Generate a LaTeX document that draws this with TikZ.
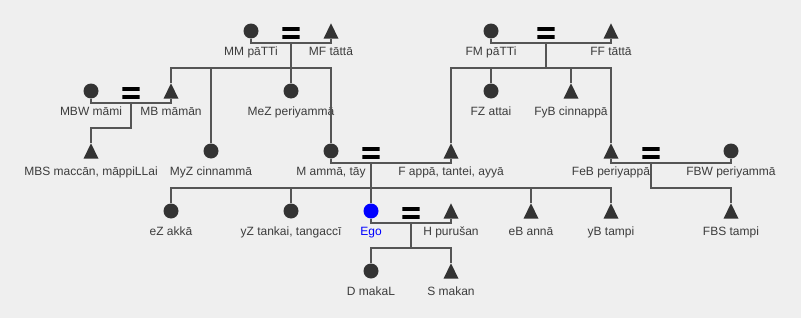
\documentclass[tikz,border=0pt]{standalone}
\usepackage{fontspec}
\setmainfont{Liberation Sans}
\usetikzlibrary{positioning, calc}

\definecolor{bgc}{RGB}{239,239,239}
\definecolor{kinfill}{RGB}{51,51,51}
\definecolor{kinline}{RGB}{85,85,85}
\definecolor{kintext}{RGB}{60,60,60}
\definecolor{egoblue}{RGB}{0,0,255}

\begin{document}
\begin{tikzpicture}[
  x=0.75pt, y=-0.75pt,
  font=\fontsize{9}{11}\selectfont,
  node distance=5.8pt,
  fem/.style={circle, fill=kinfill, inner sep=0pt, minimum size=11.25pt},
  ego/.style={fem, fill=egoblue},
  male/.style={rectangle, inner sep=0pt, minimum width=11.25pt, minimum height=11.5pt,
    path picture={\fill[kinfill] (path picture bounding box.south west) -- (path picture bounding box.south east) -- (path picture bounding box.north) -- cycle;}},
  marry/.style={rectangle, inner sep=0pt, minimum width=12.8pt, minimum height=8.6pt,
    path picture={\fill[black] (path picture bounding box.north west) rectangle ($(path picture bounding box.north east)+(0,-3pt)$);
      \fill[black] (path picture bounding box.south west) rectangle ($(path picture bounding box.south east)+(0,3pt)$);}},
  lbl/.style={inner sep=0pt, text height=6.6pt, text depth=1.9pt, text=kintext},
  kin/.style={draw=kinline, line width=0.9pt}
]
\fill[bgc] (0,0) rectangle (801,318);
\useasboundingbox (0,0) rectangle (801,318);

% grandparents
\node[fem] (MM) at (251,31) {};
\node[male] (MF) at (331,31) {};
\node[marry] (eqMM) at (291,33) {};
\node[fem] (FM) at (491,31) {};
\node[male] (FF) at (611,31) {};
\node[marry] (eqFM) at (546,33) {};
\coordinate (uMM) at (291,43);
\coordinate (sMM) at (291,68);
\coordinate (uFM) at (546,43);
\coordinate (sFM) at (546,68);

% parents' generation
\node[fem] (MBW) at (91,91) {};
\node[male] (MB) at (171,91) {};
\node[marry] (eqMB) at (131,93) {};
\node[fem] (MeZ) at (291,91) {};
\node[fem] (FZ) at (491,91) {};
\node[male] (FyB) at (571,91) {};
\coordinate (uMB) at (131,103);
\coordinate (sMB) at (131,128);

\node[male] (MBS) at (91,151) {};
\node[fem] (MyZ) at (211,151) {};
\node[fem] (M) at (331,151) {};
\node[male] (F) at (451,151) {};
\node[marry] (eqM) at (371,153) {};
\node[male] (FeB) at (611,151) {};
\node[fem] (FBW) at (731,151) {};
\node[marry] (eqFeB) at (651,153) {};
\coordinate (uM) at (371,163);
\coordinate (sM) at (371,188);
\coordinate (uFeB) at (651,163);
\coordinate (sFeB) at (651,188);

% ego's generation
\node[fem] (eZ) at (171,211) {};
\node[fem] (yZ) at (291,211) {};
\node[ego] (Ego) at (371,211) {};
\node[male] (H) at (451,211) {};
\node[marry] (eqEgo) at (411,213) {};
\node[male] (eB) at (531,211) {};
\node[male] (yB) at (611,211) {};
\node[male] (FBS) at (731,211) {};
\coordinate (uEgo) at (411,223);
\coordinate (sEgo) at (411,248);

% children
\node[fem] (D) at (371,271) {};
\node[male] (S) at (451,271) {};

% labels
\node[lbl, below=of MM] (MMt) {MM pāTTi};
\node[lbl, below=of MF] (MFt) {MF tāttā};
\node[lbl, below=of FM] (FMt) {FM pāTTi};
\node[lbl, below=of FF] (FFt) {FF tāttā};
\node[lbl, below=of MBW] (MBWt) {MBW māmi};
\node[lbl, below=of MB] (MBt) {MB māmān};
\node[lbl, below=of MeZ] (MeZt) {MeZ periyammā};
\node[lbl, below=of FZ] (FZt) {FZ attai};
\node[lbl, below=of FyB] (FyBt) {FyB cinnappā};
\node[lbl, below=of MBS] (MBSt) {MBS maccān, māppiLLai};
\node[lbl, below=of MyZ] (MyZt) {MyZ cinnammā};
\node[lbl, below=of M] (Mt) {M ammā, tāy};
\node[lbl, below=of F] (Ft) {F appā, tantei, ayyā};
\node[lbl, below=of FeB] (FeBt) {FeB periyappā};
\node[lbl, below=of FBW] (FBWt) {FBW periyammā};
\node[lbl, below=of eZ] (eZt) {eZ akkā};
\node[lbl, below=of yZ] (yZt) {yZ tankai, tangaccī};
\node[lbl, below=of Ego, text=egoblue] (Egot) {Ego};
\node[lbl, below=of H] (Ht) {H purušan};
\node[lbl, below=of eB] (eBt) {eB annā};
\node[lbl, below=of yB] (yBt) {yB tampi};
\node[lbl, below=of FBS] (FBSt) {FBS tampi};
\node[lbl, below=of D] (Dt) {D makaL};
\node[lbl, below=of S] (St) {S makan};

% mother's parents
\draw[kin] (MM) |- (uMM) -| (MF);
\draw[kin] (uMM) -- (MeZ);
\draw[kin] (MB) |- (sMM) -| (M);
\draw[kin] (MyZ) -- (MyZ |- sMM);
% father's parents
\draw[kin] (FM) |- (uFM) -| (FF);
\draw[kin] (uFM) -- (sFM);
\draw[kin] (F) |- (sFM) -| (FeB);
\draw[kin] (FZ) -- (FZ |- sFM);
\draw[kin] (FyB) -- (FyB |- sFM);
% mother's brother
\draw[kin] (MBW) |- (uMB) -| (MB);
\draw[kin] (uMB) -- (sMB) -| (MBS);
% parents
\draw[kin] (M) |- (uM) -| (F);
\draw[kin] (uM) -- (Ego);
\draw[kin] (eZ) |- (sM) -| (yB);
\draw[kin] (yZ) -- (yZ |- sM);
\draw[kin] (eB) -- (eB |- sM);
% father's brother
\draw[kin] (FeB) |- (uFeB) -| (FBW);
\draw[kin] (uFeB) -- (sFeB) -| (FBS);
% ego and husband
\draw[kin] (Ego) |- (uEgo) -| (H);
\draw[kin] (uEgo) -- (sEgo);
\draw[kin] (D) |- (sEgo) -| (S);
\end{tikzpicture}
\end{document}
